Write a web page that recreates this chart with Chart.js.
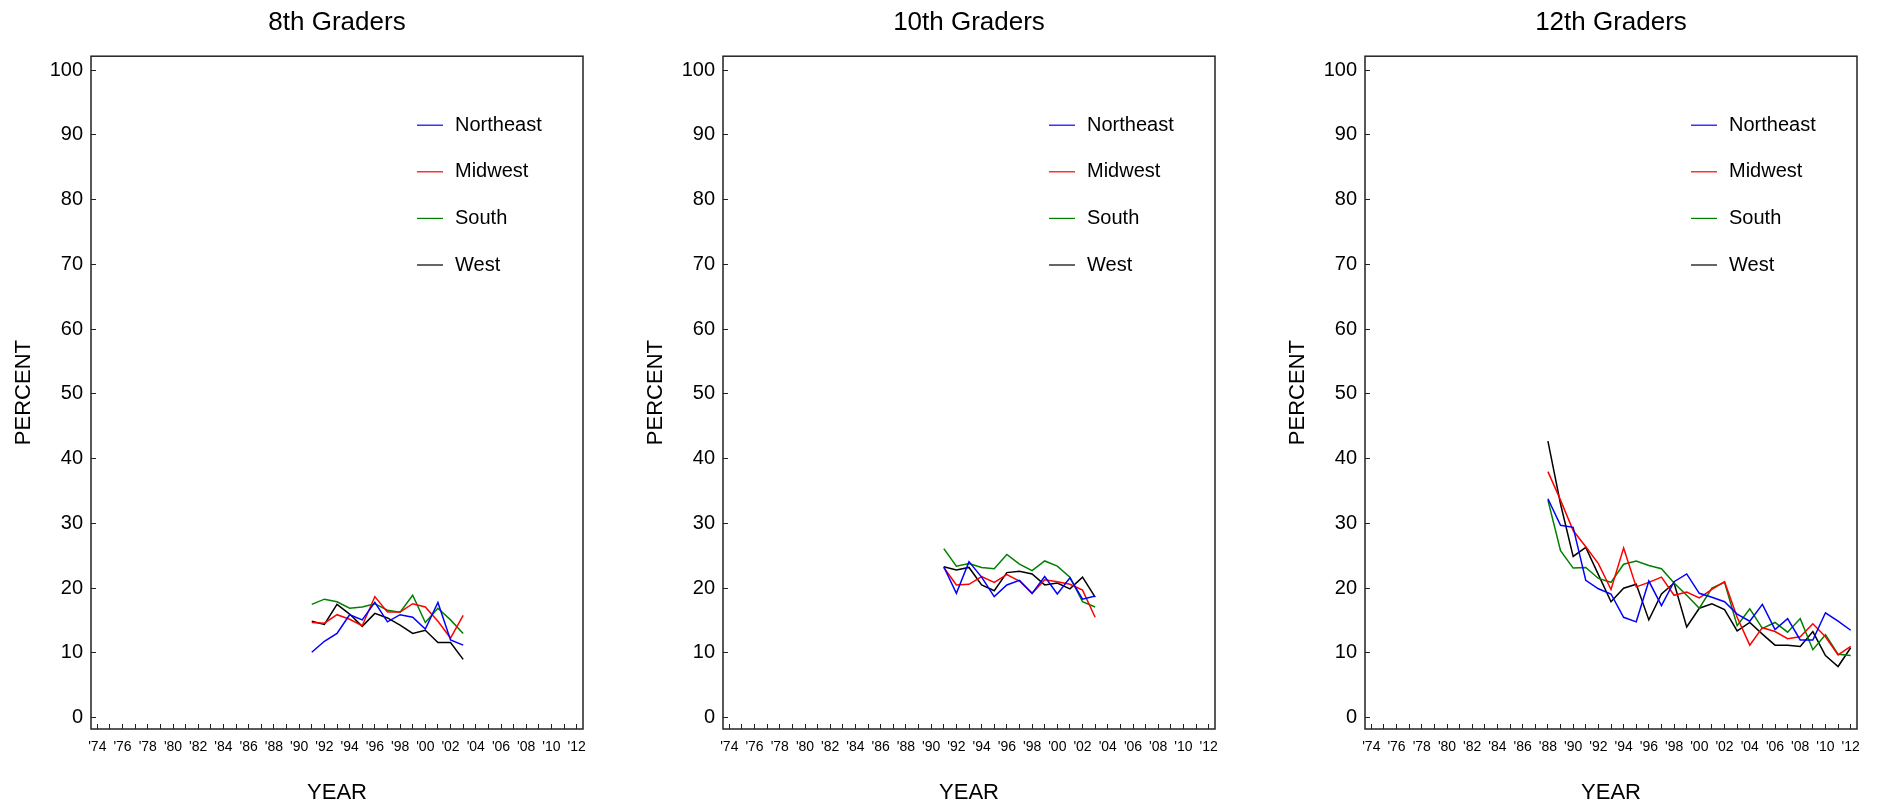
<!DOCTYPE html>
<html lang="en">
  <head>
    <meta charset="UTF-8" />
    <meta name="viewport" content="width=device-width, initial-scale=1.0" />
    <script src="https://cdn.jsdelivr.net/npm/chart.js@4.4.0/dist/chart.umd.min.js"></script>
    <title>Percent by region and grade</title>
    <style>
      body { margin: 0; background: #fff; }
      #wrap { position: relative; width: 1883px; height: 807px; }
      #wrap canvas { position: absolute; top: 0; }
    </style>
  </head>
  <body>
    <div id="wrap">
      <canvas id="grade8" width="609" height="807" style="left:0px"></canvas>
      <canvas id="grade10" width="609" height="807" style="left:632px"></canvas>
      <canvas id="grade12" width="609" height="807" style="left:1274px"></canvas>
    </div>
    <script>
      const regions = ["Northeast", "Midwest", "South", "West"];
      const colors = ["#0000ff", "#ff0000", "#008000", "#000000"];

      const yTicks = [0, 10, 20, 30, 40, 50, 60, 70, 80, 90, 100];
      const xTickYears = [1974, 1975, 1976, 1977, 1978, 1979, 1980, 1981, 1982, 1983, 1984, 1985, 1986,
        1987, 1988, 1989, 1990, 1991, 1992, 1993, 1994, 1995, 1996, 1997, 1998, 1999, 2000, 2001,
        2002, 2003, 2004, 2005, 2006, 2007, 2008, 2009, 2010, 2011, 2012];

      // 8th graders
      const years8 = [1991, 1992, 1993, 1994, 1995, 1996, 1997, 1998, 1999, 2000, 2001, 2002, 2003];
      const g8Northeast = [10.1, 11.8, 13.0, 15.9, 15.1, 17.8, 14.8, 15.9, 15.5, 13.7, 17.8, 12.0, 11.2];
      const g8Midwest = [14.7, 14.6, 15.9, 15.2, 14.2, 18.7, 16.3, 16.3, 17.6, 17.1, 14.9, 12.3, 15.8];
      const g8South = [17.5, 18.3, 17.9, 16.9, 17.1, 17.6, 16.6, 16.3, 18.9, 14.7, 16.9, 15.1, 13.0];
      const g8West = [14.9, 14.4, 17.5, 16.0, 14.1, 16.1, 15.4, 14.3, 13.0, 13.5, 11.6, 11.6, 9.0];

      // 10th graders
      const years10 = [1991, 1992, 1993, 1994, 1995, 1996, 1997, 1998, 1999, 2000, 2001, 2002, 2003];
      const g10Northeast = [23.3, 19.2, 24.1, 21.7, 18.7, 20.5, 21.2, 19.2, 21.8, 19.1, 21.6, 18.3, 18.8];
      const g10Midwest = [23.2, 20.5, 20.6, 21.8, 20.9, 22.1, 21.1, 19.2, 21.3, 21.0, 20.6, 19.7, 15.5];
      const g10South = [26.1, 23.4, 23.8, 23.2, 23.0, 25.2, 23.7, 22.7, 24.2, 23.4, 21.7, 17.9, 17.1];
      const g10West = [23.3, 22.8, 23.2, 20.5, 19.6, 22.4, 22.6, 22.2, 20.5, 20.8, 19.9, 21.7, 18.6];

      // 12th graders
      const years12 = [1988, 1989, 1990, 1991, 1992, 1993, 1994, 1995, 1996, 1997, 1998, 1999, 2000,
        2001, 2002, 2003, 2004, 2005, 2006, 2007, 2008, 2009, 2010, 2011, 2012];
      const g12Northeast = [33.8, 29.7, 29.4, 21.2, 19.9, 19.1, 15.5, 14.8, 21.1, 17.3, 21.0, 22.2, 19.2,
        18.6, 17.9, 16.0, 14.9, 17.5, 13.6, 15.3, 12.0, 12.0, 16.2, 14.9, 13.5];
      const g12Midwest = [38.0, 33.6, 28.9, 26.4, 23.8, 19.8, 26.2, 20.2, 20.9, 21.7, 18.9, 19.4, 18.5,
        19.8, 21.0, 15.5, 11.2, 13.9, 13.3, 12.2, 12.5, 14.5, 12.5, 9.7, 11.0];
      const g12South = [33.6, 25.8, 23.1, 23.2, 21.5, 20.9, 23.7, 24.2, 23.5, 23.0, 20.8, 18.9, 16.9,
        20.0, 20.9, 14.2, 16.8, 13.8, 14.7, 13.2, 15.3, 10.5, 12.8, 9.8, 9.6];
      const g12West = [42.7, 33.0, 24.9, 26.3, 22.1, 17.9, 20.0, 20.6, 15.1, 19.1, 20.8, 14.0, 16.9,
        17.6, 16.7, 13.4, 14.7, 12.9, 11.2, 11.2, 11.0, 13.3, 9.6, 7.9, 10.8];

      const FONT = "'Liberation Sans', Arial, sans-serif";
      Chart.defaults.font.family = FONT;
      Chart.defaults.color = "#000";

      // box around the plot area
      const framePlugin = {
        id: "frame",
        afterDraw(chart) {
          const { ctx, chartArea } = chart;
          ctx.save();
          ctx.strokeStyle = "#222";
          ctx.lineWidth = 1.5;
          ctx.strokeRect(chartArea.left, chartArea.top, chartArea.right - chartArea.left, chartArea.bottom - chartArea.top);
          ctx.restore();
        },
      };

      // legend sitting inside the plot, upper right
      const legendPlugin = {
        id: "insideLegend",
        afterDatasetsDraw(chart) {
          const { ctx, chartArea } = chart;
          ctx.save();
          ctx.font = "20px " + FONT;
          ctx.textBaseline = "middle";
          chart.data.datasets.forEach((ds, i) => {
            const y = chartArea.top + 69 + i * 46.6;
            ctx.strokeStyle = ds.borderColor;
            ctx.lineWidth = 1.2;
            ctx.beginPath();
            ctx.moveTo(chartArea.left + 326, y);
            ctx.lineTo(chartArea.left + 352, y);
            ctx.stroke();
            ctx.fillStyle = "#000";
            ctx.fillText(ds.label, chartArea.left + 364, y);
          });
          ctx.restore();
        },
      };

      function makeChart(id, title, years, series) {
        const ctx = document.getElementById(id).getContext("2d");
        return new Chart(ctx, {
          type: "line",
          data: {
            datasets: series.map((vals, i) => ({
              label: regions[i],
              data: vals.map((v, k) => ({ x: years[k], y: v })),
              borderColor: colors[i],
              backgroundColor: colors[i],
              borderWidth: 1.5,
              pointRadius: 0,
              tension: 0,
              fill: false,
            })),
          },
          options: {
            responsive: false,
            animation: false,
            devicePixelRatio: 1,
            layout: { padding: { left: 0, right: 26, top: 0, bottom: 0 } },
            plugins: {
              legend: { display: false },
              tooltip: { enabled: false },
              title: {
                display: true,
                text: title,
                fullSize: false,
                color: "#000",
                font: { size: 26, weight: "normal" },
                padding: { top: 7, bottom: 18 },
              },
            },
            scales: {
              x: {
                type: "linear",
                min: 1973.5,
                max: 2012.5,
                border: { display: false },
                grid: { drawOnChartArea: false, tickLength: -5, color: "#222" },
                afterBuildTicks: (s) => { s.ticks = xTickYears.map((v) => ({ value: v })); },
                afterFit: (s) => { s.height = 78; },
                ticks: {
                  autoSkip: false,
                  maxRotation: 0,
                  padding: 15,
                  font: { size: 14 },
                  callback: (v) => (v % 2 === 0 ? "'" + String(v).slice(2) : ""),
                },
                title: { display: true, text: "YEAR", font: { size: 22 }, padding: { top: 0, bottom: 1 } },
              },
              y: {
                min: -1.75,
                max: 102.15,
                border: { display: false },
                grid: { drawOnChartArea: false, tickLength: -5, color: "#222" },
                afterBuildTicks: (s) => { s.ticks = yTicks.map((v) => ({ value: v })); },
                afterFit: (s) => { s.width = 91; },
                ticks: { padding: 13, font: { size: 20 } },
                title: { display: true, text: "PERCENT", font: { size: 22 }, padding: { top: 11, bottom: 0 } },
              },
            },
          },
          plugins: [framePlugin, legendPlugin],
        });
      }

      makeChart("grade8", "8th Graders", years8, [g8Northeast, g8Midwest, g8South, g8West]);
      makeChart("grade10", "10th Graders", years10, [g10Northeast, g10Midwest, g10South, g10West]);
      makeChart("grade12", "12th Graders", years12, [g12Northeast, g12Midwest, g12South, g12West]);
    </script>
  </body>
</html>
